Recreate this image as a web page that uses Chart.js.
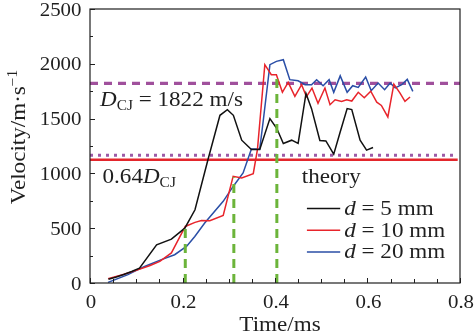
<!DOCTYPE html>
<html>
<head>
<meta charset="utf-8">
<script src="https://cdn.jsdelivr.net/npm/chart.js@4/dist/chart.umd.min.js"></script>
<style>
  html, body { margin: 0; padding: 0; background: #fff; overflow: hidden; }
  #wrap { width: 474px; height: 336px; overflow: hidden; position: relative; }
  canvas { display: block; }
</style>
</head>
<body>
<div id="wrap"><canvas id="chart" width="500" height="336"></canvas></div>
<script>
// Detonation front velocity against time for three tube diameters
const t5  = [0.040, 0.057, 0.073, 0.090, 0.107, 0.144, 0.176, 0.205, 0.227, 0.255, 0.281, 0.297, 0.310, 0.328, 0.349, 0.367, 0.389, 0.404, 0.418, 0.436, 0.450, 0.467, 0.479, 0.497, 0.510, 0.527, 0.540, 0.556, 0.566, 0.584, 0.598, 0.612];
const v5  = [35, 55, 78, 105, 136, 348, 400, 500, 668, 1125, 1530, 1582, 1530, 1303, 1218, 1218, 1500, 1409, 1273, 1303, 1273, 1730, 1591, 1300, 1296, 1175, 1364, 1591, 1582, 1303, 1212, 1236];

const t10 = [0.039, 0.070, 0.100, 0.130, 0.151, 0.176, 0.206, 0.227, 0.241, 0.259, 0.288, 0.3095, 0.328, 0.353, 0.362, 0.378, 0.392, 0.403, 0.416, 0.4285, 0.443, 0.4575, 0.468, 0.480, 0.493, 0.508, 0.519, 0.530, 0.544, 0.555, 0.566, 0.580, 0.593, 0.607, 0.620, 0.630, 0.644, 0.657, 0.670, 0.681, 0.692];
const v10 = [40, 75, 115, 160, 197, 274, 516, 553, 571, 568, 617, 973, 958, 997, 1216, 1992, 1900, 1900, 1740, 1830, 1703, 1810, 1700, 1779, 1640, 1779, 1627, 1672, 1657, 1672, 1660, 1740, 1690, 1750, 1650, 1620, 1515, 1815, 1734, 1657, 1697];

const t20 = [0.039, 0.082, 0.118, 0.1545, 0.183, 0.2086, 0.2266, 0.248, 0.288, 0.3095, 0.331, 0.349, 0.367, 0.374, 0.389, 0.403, 0.418, 0.432, 0.450, 0.465, 0.479, 0.490, 0.504, 0.517, 0.527, 0.541, 0.556, 0.568, 0.580, 0.596, 0.608, 0.623, 0.637, 0.649, 0.660, 0.674, 0.686, 0.698];
const v20 = [6, 76, 151, 213, 258, 334, 425, 547, 745, 881, 1004, 1222, 1222, 1460, 1992, 2022, 2037, 1855, 1845, 1809, 1809, 1855, 1800, 1855, 1740, 1890, 1740, 1800, 1785, 1880, 1755, 1825, 1764, 1825, 1780, 1809, 1858, 1748];

const seriesDiameters = ['5', '10', '20'];
const seriesColors = ['#111111', '#e8242b', '#2a4ea6'];

// Reference velocities
const D_CJ = 1822;
const limitRatio = 0.64;
const theoryVelocity = 1125;

// Transition instants marked by vertical dashes
const markerTimes = [0.206, 0.311, 0.404];
const markerVelocities = [530, 965, 1890];

const xTickLabels = ['0', '0.2', '0.4', '0.6', '0.8'];
const yTickLabels = ['0', '500', '1000', '1500', '2000', '2500'];

const SERIF = '"Liberation Serif", "Times New Roman", serif';
const SX = 1.1;
const INK = '#1f1f1f';

function fontOf(r) { return (r.italic ? 'italic ' : '') + r.size + 'px ' + SERIF; }
function runsWidth(ctx, runs) {
  let w = 0;
  for (const r of runs) { ctx.font = fontOf(r); w += ctx.measureText(r.text).width; }
  return w;
}
function drawRuns(ctx, runs, x, y, align) {
  const w = runsWidth(ctx, runs) * SX;
  const x0 = align === 'center' ? x - w / 2 : align === 'right' ? x - w : x;
  ctx.save();
  ctx.translate(x0, y);
  ctx.scale(SX, 1);
  ctx.textAlign = 'left';
  ctx.textBaseline = 'alphabetic';
  ctx.fillStyle = INK;
  let px = 0;
  for (const r of runs) {
    ctx.font = fontOf(r);
    ctx.fillText(r.text, px, r.dy || 0);
    px += ctx.measureText(r.text).width;
  }
  ctx.restore();
}

const pts = (ts, vs) => ts.map((t, i) => ({ x: t, y: vs[i] }));

const datasets = [];
// measured series
[[t5, v5], [t10, v10], [t20, v20]].forEach(([ts, vs], i) => {
  datasets.push({
    label: 'd = ' + seriesDiameters[i] + ' mm',
    data: pts(ts, vs),
    borderColor: seriesColors[i],
    borderWidth: 1.5,
    pointRadius: 0,
    tension: 0,
    order: 2
  });
});
// horizontal reference lines
datasets.push({
  label: 'D_CJ',
  data: [{ x: 0, y: D_CJ }, { x: 0.8, y: D_CJ }],
  borderColor: '#a0509c',
  borderWidth: 3.3,
  borderDash: [8, 6],
  pointRadius: 0,
  order: 3
});
datasets.push({
  label: '0.64 D_CJ',
  data: [{ x: 0, y: limitRatio * D_CJ }, { x: 0.795, y: limitRatio * D_CJ }],
  borderColor: '#9c5aa6',
  borderWidth: 3,
  borderDash: [3, 5],
  pointRadius: 0,
  order: 3
});
datasets.push({
  label: 'theory',
  data: [{ x: 0, y: theoryVelocity }, { x: 0.795, y: theoryVelocity }],
  borderColor: '#e3262c',
  borderWidth: 2.6,
  pointRadius: 0,
  order: 3
});
// vertical markers
markerTimes.forEach((t, i) => {
  datasets.push({
    label: 'marker ' + (i + 1),
    data: [{ x: t, y: 0 }, { x: t, y: markerVelocities[i] }],
    borderColor: '#6cb43a',
    borderWidth: 3,
    borderDash: [9, 6],
    pointRadius: 0,
    order: 1
  });
});

const near = (a, b) => Math.abs(a - b) < 1e-6;

const framePlugin = {
  id: 'frame',
  afterDraw(chart) {
    const ctx = chart.ctx;
    const a = chart.chartArea;
    const xs = chart.scales.x, ys = chart.scales.y;
    ctx.save();
    // plot box
    ctx.strokeStyle = INK;
    ctx.lineWidth = 1.2;
    ctx.strokeRect(a.left, a.top, a.right - a.left, a.bottom - a.top);
    // inward tick marks
    ctx.lineWidth = 1;
    ctx.beginPath();
    xs.ticks.forEach(tk => {
      const px = Math.round(xs.getPixelForValue(tk.value)) + 0.5;
      const major = xTickLabels.some(l => near(Number(l), tk.value));
      ctx.moveTo(px, a.bottom);
      ctx.lineTo(px, a.bottom - (major ? 5 : 4));
    });
    ys.ticks.forEach(tk => {
      const py = Math.round(ys.getPixelForValue(tk.value)) + 0.5;
      const major = yTickLabels.some(l => near(Number(l), tk.value));
      ctx.moveTo(a.left, py);
      ctx.lineTo(a.left + (major ? 5 : 3), py);
    });
    ctx.stroke();
    ctx.restore();

    // tick labels
    xs.ticks.forEach(tk => {
      const lab = xTickLabels.find(l => near(Number(l), tk.value));
      if (lab !== undefined) drawRuns(ctx, [{ text: lab, size: 19 }], xs.getPixelForValue(tk.value) + 1, a.bottom + 25, 'center');
    });
    ys.ticks.forEach(tk => {
      const lab = yTickLabels.find(l => near(Number(l), tk.value));
      if (lab !== undefined) drawRuns(ctx, [{ text: lab, size: 19 }], a.left - 8.5, ys.getPixelForValue(tk.value) + 6.5, 'right');
    });

    // axis titles
    drawRuns(ctx, [{ text: 'Time/ms', size: 21 }], (a.left + a.right) / 2 + 5, 331, 'center');
    ctx.save();
    ctx.translate(25, (a.top + a.bottom) / 2 - 9);
    ctx.rotate(-Math.PI / 2);
    drawRuns(ctx, [{ text: 'Velocity/m\u00b7s', size: 21 }, { text: '\u22121', size: 14, dy: -8 }], 0, 0, 'center');
    ctx.restore();

    // line annotations
    const yCJ = ys.getPixelForValue(D_CJ);
    drawRuns(ctx, [
      { text: 'D', size: 21, italic: true },
      { text: 'CJ', size: 14, dy: 4 },
      { text: ' = 1822 m/s', size: 21 }
    ], a.left + 10, yCJ + 22.5, 'left');
    const yTh = ys.getPixelForValue(theoryVelocity);
    drawRuns(ctx, [
      { text: '0.64', size: 21 },
      { text: 'D', size: 21, italic: true },
      { text: 'CJ', size: 14, dy: 4 }
    ], a.left + 12.5, yTh + 23, 'left');
    drawRuns(ctx, [{ text: 'theory', size: 21 }], xs.getPixelForValue(0.458), yTh + 23, 'left');

    // legend
    const lx0 = xs.getPixelForValue(0.469), lx1 = xs.getPixelForValue(0.541);
    seriesDiameters.forEach((d, i) => {
      const base = 215 + i * 21.7;
      ctx.save();
      ctx.strokeStyle = seriesColors[i];
      ctx.lineWidth = 1.5;
      ctx.beginPath();
      ctx.moveTo(lx0, base - 6.5);
      ctx.lineTo(lx1, base - 6.5);
      ctx.stroke();
      ctx.restore();
      drawRuns(ctx, [
        { text: 'd', size: 21, italic: true },
        { text: ' = ' + d + ' mm', size: 21 }
      ], lx1 + 4, base, 'left');
    });
  }
};

new Chart(document.getElementById('chart'), {
  type: 'line',
  data: { datasets },
  options: {
    responsive: false,
    animation: false,
    devicePixelRatio: 1,
    layout: { padding: { left: 0, top: 9, right: 40, bottom: 0 } },
    plugins: { legend: { display: false }, tooltip: { enabled: false } },
    scales: {
      x: {
        type: 'linear', min: 0, max: 0.8,
        ticks: { stepSize: 0.05, display: false },
        grid: { display: false },
        border: { display: false },
        afterFit(s) { s.height = 53; }
      },
      y: {
        type: 'linear', min: 0, max: 2500,
        ticks: { stepSize: 250, display: false },
        grid: { display: false },
        border: { display: false },
        afterFit(s) { s.width = 90; }
      }
    }
  },
  plugins: [framePlugin]
});
</script>
</body>
</html>
